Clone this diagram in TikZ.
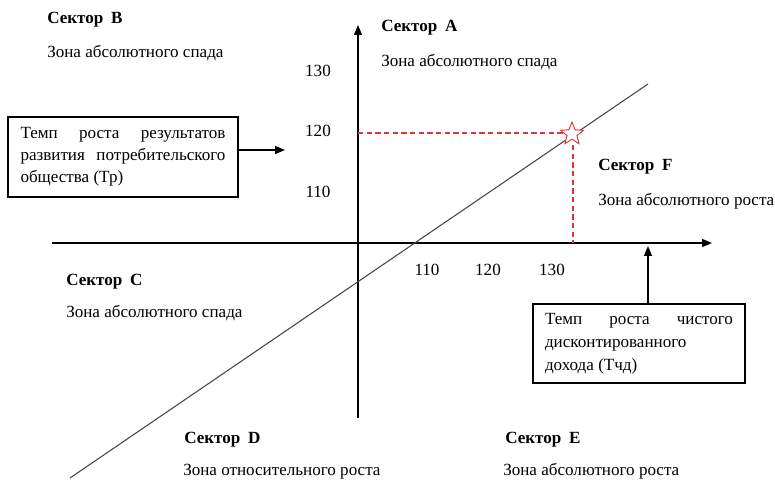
\documentclass[tikz,border=0pt]{standalone}
\usepackage{fontspec}
\setmainfont{Liberation Serif}
\usetikzlibrary{arrows.meta,shapes.geometric}
\definecolor{starred}{RGB}{220,55,55}
\definecolor{diag}{RGB}{70,70,70}
\newcommand{\fsz}{\fontsize{12.8}{15}\selectfont}
\begin{document}
\begin{tikzpicture}[x=0.75pt,y=-0.75pt,
  every node/.style={font=\fsz, inner sep=0pt},
  lbl/.style={anchor=base west},
  ttl/.style={anchor=base west, font=\fsz\bfseries},
  tick/.style={anchor=base},
  axis/.style={line width=1pt, -{Triangle[length=7.5pt,width=6pt]}},
  pointer/.style={line width=1.1pt, -{Triangle[length=7.5pt,width=6pt]}},
  diagline/.style={line width=0.8pt, draw=diag},
  reddash/.style={line width=1pt, draw=starred, dash pattern=on 4pt off 2.5pt},
  infobox/.style={draw, line width=1pt, inner xsep={12*0.75pt}, align=left},
]
\useasboundingbox (0,0) rectangle (775,481);

% axes
\coordinate (ybot) at (358,418);
\coordinate (ytop) at (358,25);
\coordinate (xl) at (52,243);
\coordinate (xr) at (712,243);
\draw[axis] (ybot) -- (ytop);
\draw[axis] (xl) -- (xr);

% diagonal line
\coordinate (d1) at (70,478);
\coordinate (d2) at (648,84);
\draw[diagline] (d1) -- (d2);

% star and guide lines
\node[star, star points=5, star point ratio=2.3, draw=starred, fill=white,
      line width=0.7pt, minimum size={24*0.75pt}] (star) at (572,134) {};
\coordinate (hy) at (358,133);
\coordinate (vtop) at (573,145);
\coordinate (vbot) at (573,243);
\draw[reddash] (hy) -- (star.west |- hy);
\draw[reddash] (vtop) -- (vbot);

% tick labels
\node[tick] (t130y) at (318,77) {130};
\node[tick] (t120y) at (318,137) {120};
\node[tick] (t110y) at (318,198) {110};
\node[tick] (t110x) at (427,275) {110};
\node[tick] (t120x) at (488,275) {120};
\node[tick] (t130x) at (552,275) {130};

% sectors
\node[ttl] (sB) at (47,24) {Сектор\hspace{0.45em}B};
\node[lbl] (zB) at (47,58) {Зона абсолютного спада};
\node[ttl] (sA) at (381,32) {Сектор\hspace{0.45em}A};
\node[lbl] (zA) at (381,67) {Зона абсолютного спада};
\node[ttl] (sF) at (598,171) {Сектор\hspace{0.45em}F};
\node[lbl] (zF) at (598,206) {Зона абсолютного роста};
\node[ttl] (sC) at (66,285) {Сектор\hspace{0.45em}C};
\node[lbl] (zC) at (66,317) {Зона абсолютного спада};
\node[ttl] (sD) at (184,443) {Сектор\hspace{0.45em}D};
\node[lbl] (zD) at (183,475) {Зона относительного роста};
\node[ttl] (sE) at (505,443) {Сектор\hspace{0.45em}E};
\node[lbl] (zE) at (503,475) {Зона абсолютного роста};

% info boxes
\node[infobox, minimum width={230*0.75pt}, minimum height={80*0.75pt}] (boxL) at (123,157)
  {\parbox{153.75pt}{\baselineskip=16.5pt
   \makebox[\linewidth][s]{Темп роста результатов}\\
   \makebox[\linewidth][s]{развития потребительского}\\
   общества (Тр)}};
\node[infobox, minimum width={212*0.75pt}, minimum height={79*0.75pt}] (boxR) at (639,343.5)
  {\parbox{141pt}{\baselineskip=17.25pt
   \makebox[\linewidth][s]{Темп роста чистого}\\
   дисконтированного\\
   дохода (Тчд)}};

\coordinate (pL) at (285,150);
\coordinate (pR) at (648,246);
\draw[pointer] (boxL.east |- pL) -- (pL);
\draw[pointer] (boxR.north -| pR) -- (pR);
\end{tikzpicture}
\end{document}
